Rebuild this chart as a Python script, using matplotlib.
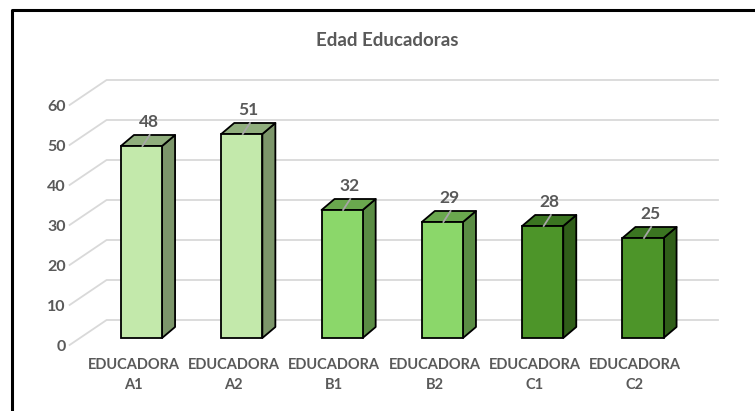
import matplotlib
matplotlib.use("Agg")
import matplotlib.pyplot as plt
from matplotlib.patches import Polygon
from matplotlib.lines import Line2D
from matplotlib.transforms import IdentityTransform
import numpy as np

# ---- data ----
categories = ["EDUCADORA\nA1", "EDUCADORA\nA2", "EDUCADORA\nB1",
              "EDUCADORA\nB2", "EDUCADORA\nC1", "EDUCADORA\nC2"]
values = [48, 51, 32, 29, 28, 25]
yticks = [0, 10, 20, 30, 40, 50, 60]
title = "Edad Educadoras"

# ---- styles ----
face_colors = ["#C3E9AB", "#C3E9AB", "#8BD76A", "#8BD76A", "#4D9529", "#4D9529"]
side_colors = ["#7C966A", "#7C966A", "#5A8C44", "#5A8C44", "#305E19", "#305E19"]
top_colors = ["#90AE7D", "#90AE7D", "#6AA84E", "#6AA84E", "#3B7521", "#3B7521"]
text_color = "#595959"
grid_color = "#D9D9D9"
FONT = ["Lato", "DejaVu Sans"]

W, H, DPI = 755, 411, 100
fig = plt.figure(figsize=(W / DPI, H / DPI), dpi=DPI)
fig.patch.set_facecolor("white")

step = 100.3
x0 = 141.5
left = (x0 - 0.5 * step) / W
width = (6 * step) / W
bottom = (H - 338) / H
height = (60 * 4.0) / H
ax = fig.add_axes([left, bottom, width, height])
ax.set_xlim(-0.5, 5.5)
ax.set_ylim(0, 60)
ax.axis("off")
ID = IdentityTransform()

def disp(x, v, dx=0.0, dy=0.0):
    p = ax.transData.transform((x, v))
    return (p[0] + dx, p[1] + dy)

BACK_DX, BACK_DY = 26.6, 18.0
FRONT_DX, FRONT_DY = -10.4, -7.0
left_front_x = (80 - x0) / step
right_back_x = (718 - x0 - BACK_DX) / step

# gridlines (behind bars)
for v in yticks:
    fl = disp(left_front_x, v, FRONT_DX + 10.4 * 0, FRONT_DY)
    bl = disp(left_front_x, v, FRONT_DX + 37.0, FRONT_DY + 25.0)
    br = disp(right_back_x, v, BACK_DX, BACK_DY)
    ax.add_artist(Line2D([fl[0], bl[0], br[0]], [fl[1], bl[1], br[1]],
                         transform=ID, color=grid_color, lw=1.3, zorder=1,
                         clip_on=False))
    fig.text(fl[0] - 4, fl[1] - 2, str(v), transform=None, ha="right", va="center",
             fontsize=11.5, fontweight="bold", color=text_color, family=FONT)

# bars
bw = 0.41
DDX, DDY = 13.0, 11.0
xs = np.arange(len(values))
ax.bar(xs, values, width=bw, color=face_colors, edgecolor="black",
       linewidth=1.3, zorder=5, clip_on=False)
for i, (x, v) in enumerate(zip(xs, values)):
    xl, xr = x - bw / 2, x + bw / 2
    side = [disp(xr, 0), disp(xr, v), disp(xr, v, DDX, DDY), disp(xr, 0, DDX, DDY)]
    ax.add_artist(Polygon(side, closed=True, transform=ID, facecolor=side_colors[i],
                          edgecolor="black", lw=1.3, joinstyle="round", zorder=4,
                          clip_on=False))
    top = [disp(xl, v), disp(xr, v), disp(xr, v, DDX, DDY), disp(xl, v, DDX, DDY)]
    ax.add_artist(Polygon(top, closed=True, transform=ID, facecolor=top_colors[i],
                          edgecolor="black", lw=1.3, joinstyle="round", zorder=4,
                          clip_on=False))
    a = disp(x, v, 1.0, 0)
    b = disp(x, v, DDX * 0.55 + 1.0, DDY)
    ax.add_artist(Line2D([a[0], b[0]], [a[1], b[1]], transform=ID,
                         color="#A6A6A6", lw=1.3, zorder=6, clip_on=False))
    lp = disp(x, v, 7.0, DDY + 13.0)
    fig.text(lp[0], lp[1], str(v), transform=None, ha="center", va="center",
             fontsize=12.5, fontweight="bold", color=text_color, family=FONT, zorder=7)
    cp = disp(x, 0, -8.0, -37.0)
    fig.text(cp[0], cp[1], categories[i], transform=None, ha="center", va="center",
             fontsize=10.5, fontweight="bold", color=text_color, family=FONT,
             linespacing=1.55, multialignment="center")

fig.text(387 / W, 1 - 40 / H, title, ha="center", va="center", fontsize=13.5,
         fontweight="bold", color=text_color, family=FONT)

fig.add_artist(Line2D([12 / W, 12 / W, 1.0], [0.0, 1 - 10 / H, 1 - 10 / H],
                      transform=fig.transFigure, color="black", lw=2.2, zorder=10))

fig.savefig("out.png", dpi=DPI)
